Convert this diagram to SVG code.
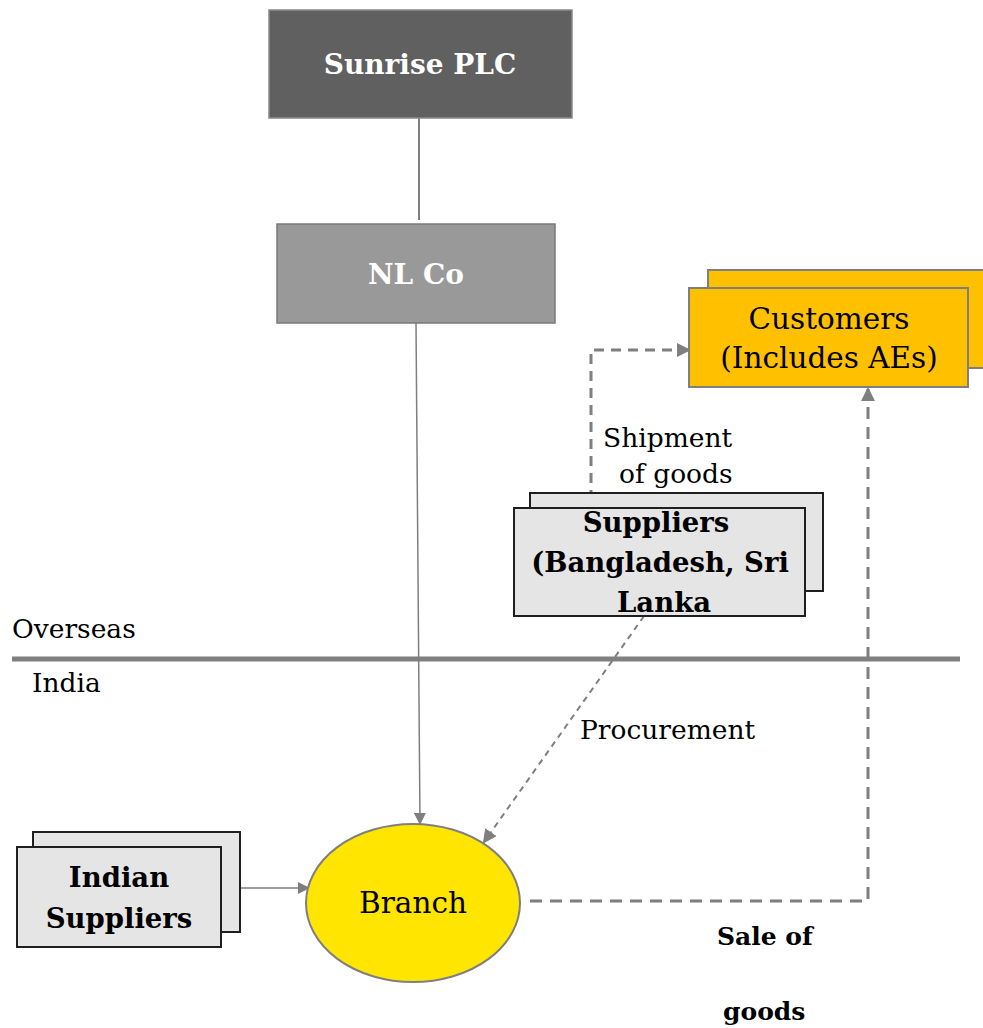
<svg xmlns="http://www.w3.org/2000/svg" width="983" height="1028" viewBox="0 0 983 1028">
  <defs>
    <marker id="arr" markerWidth="12" markerHeight="12" refX="11" refY="6" orient="auto" markerUnits="userSpaceOnUse" viewBox="0 0 12 12">
      <path d="M0,0 L12,6 L0,12 z" fill="#7f7f7f"/>
    </marker>
    <marker id="arrBig" markerWidth="14" markerHeight="14" refX="12" refY="7" orient="auto" markerUnits="userSpaceOnUse" viewBox="0 0 14 14">
      <path d="M0,0 L14,7 L0,14 z" fill="#7f7f7f"/>
    </marker>
  </defs>
  <style>
    text { font-family: "DejaVu Serif", "Liberation Serif", serif; fill: #000; }
    .lbl { font-size: 26.5px; }
    .big { font-size: 29.5px; }
    .bold { font-weight: bold; font-size: 27.5px; }
    .sale { font-weight: bold; font-size: 25px; }
    .white { fill: #fff; font-weight: bold; font-size: 28px; }
    .grey { fill: #e5e5e5; stroke: #1f1f1f; stroke-width: 2; }
    .conn { fill: none; stroke: #7f7f7f; }
  </style>
  <rect width="983" height="1028" fill="#fff"/>

  <!-- Overseas / India divider -->
  <g id="border">
    <line x1="12" y1="659" x2="960" y2="659" stroke="#808080" stroke-width="5"/>
    <text class="lbl" x="12" y="638">Overseas</text>
    <text class="lbl" x="32" y="692">India</text>
  </g>

  <g id="connectors">
    <line class="conn" x1="419" y1="118" x2="419" y2="220" stroke-width="2"/>
    <line class="conn" x1="416" y1="323" x2="420" y2="824" stroke-width="1.5" marker-end="url(#arr)"/>
    <line class="conn" x1="240" y1="888" x2="309" y2="888" stroke-width="1.5" marker-end="url(#arr)"/>
    <path class="conn" d="M591,500 L591,350 L689,350" stroke-width="3" stroke-dasharray="10,7" marker-end="url(#arrBig)"/>
    <line class="conn" x1="644" y1="616" x2="484" y2="842" stroke-width="2" stroke-dasharray="6,5" marker-end="url(#arrBig)"/>
    <path class="conn" d="M530,901 L868,901 L868,389" stroke-width="3" stroke-dasharray="12,8" marker-end="url(#arrBig)"/>
  </g>

  <g id="sunrise">
    <rect x="269" y="10" width="303" height="108" fill="#606060" stroke="#8a8a8a" stroke-width="1.5"/>
    <text class="white" x="420" y="74" text-anchor="middle">Sunrise PLC</text>
  </g>

  <g id="nlco">
    <rect x="277" y="224" width="278" height="99" fill="#999999" stroke="#7a7a7a" stroke-width="1.5"/>
    <text class="white" x="416" y="284" text-anchor="middle">NL Co</text>
  </g>

  <g id="customers">
    <rect x="708" y="270" width="285" height="98" fill="#FFC000" stroke="#7f7f7f" stroke-width="2"/>
    <rect x="689" y="288" width="279" height="99" fill="#FFC000" stroke="#7f7f7f" stroke-width="2"/>
    <text class="big" x="829" y="329" text-anchor="middle">Customers</text>
    <text class="big" x="829" y="368" text-anchor="middle">(Includes AEs)</text>
  </g>

  <g id="shipment-label">
    <text class="lbl" x="603" y="447">Shipment</text>
    <text class="lbl" x="619" y="483">of goods</text>
  </g>

  <g id="suppliers-overseas">
    <rect class="grey" x="530" y="493" width="293" height="98"/>
    <rect class="grey" x="514" y="508" width="291" height="108"/>
    <text class="bold" x="656" y="532" text-anchor="middle">Suppliers</text>
    <text class="bold" x="660" y="572" text-anchor="middle">(Bangladesh, Sri</text>
    <text class="bold" x="664" y="612" text-anchor="middle">Lanka</text>
  </g>

  <g id="procurement-label">
    <text class="lbl" x="580" y="739">Procurement</text>
  </g>

  <g id="indian-suppliers">
    <rect class="grey" x="33" y="832" width="207" height="100"/>
    <rect class="grey" x="17" y="847" width="204" height="100"/>
    <text class="bold" x="119" y="887" text-anchor="middle">Indian</text>
    <text class="bold" x="119" y="928" text-anchor="middle">Suppliers</text>
  </g>

  <g id="branch">
    <ellipse cx="413" cy="903" rx="107" ry="79" fill="#FFE500" stroke="#7f7f7f" stroke-width="2"/>
    <text class="big" x="413" y="913" text-anchor="middle">Branch</text>
  </g>

  <g id="sale-label">
    <text class="sale" x="717" y="945">Sale of</text>
    <text class="sale" x="723" y="1020">goods</text>
  </g>
</svg>
